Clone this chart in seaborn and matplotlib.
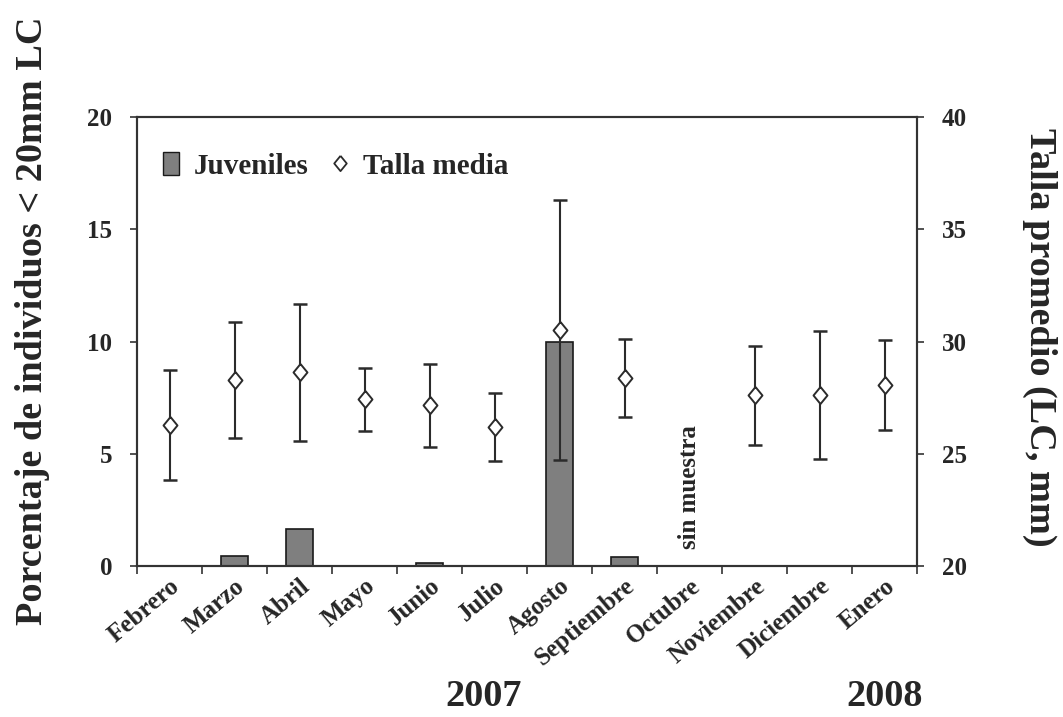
import numpy as np
import pandas as pd
import matplotlib
matplotlib.use("Agg")
import matplotlib.pyplot as plt
from matplotlib.patches import Patch
from matplotlib.lines import Line2D
import seaborn as sns

# Monthly sampling, Feb 2007 - Jan 2008
meses = ["Febrero", "Marzo", "Abril", "Mayo", "Junio", "Julio", "Agosto",
         "Septiembre", "Octubre", "Noviembre", "Diciembre", "Enero"]
# Percentage of juveniles (< 20 mm LC)
juveniles = [0.0, 0.45, 1.65, 0.0, 0.12, 0.0, 10.0, 0.38, 0.0, 0.0, 0.0, 0.0]
# Mean carapace length (mm) and its spread; Octubre was not sampled
talla_media = [26.27, 28.28, 28.62, 27.42, 27.17, 26.18, 30.5, 28.38,
               np.nan, 27.6, 27.6, 28.05]
talla_error = [2.45, 2.57, 3.05, 1.4, 1.85, 1.52, 5.8, 1.75,
               np.nan, 2.2, 2.85, 2.0]

sns.set_theme(style="white")
plt.rcParams["font.family"] = ["Liberation Serif", "DejaVu Serif"]
plt.rcParams["font.weight"] = "bold"

df = pd.DataFrame({"mes": meses, "juv": juveniles,
                   "talla": talla_media, "err": talla_error})
df["pos"] = np.arange(len(meses))

# slightly tall open diamond
rombo = [(0, 1), (0.82, 0), (0, -1), (-0.82, 0), (0, 1)]

fig = plt.figure(figsize=(10.63, 7.17), dpi=100)
ax = fig.add_axes([0.1289, 0.2106, 0.7338, 0.6262])

sns.barplot(data=df, x="mes", y="juv", ax=ax, color="#7f7f7f",
            saturation=1, width=0.42, edgecolor="#1a1a1a", linewidth=1.2)

ax2 = ax.twinx()
ax2.errorbar(df["pos"], df["talla"], yerr=df["err"], fmt="none",
             ecolor="#2b2b2b", elinewidth=1.5, capsize=5, capthick=1.8,
             zorder=2)
sns.scatterplot(data=df, x="pos", y="talla", ax=ax2, marker=rombo, s=150,
                facecolor="white", edgecolor="#2b2b2b", linewidth=1.4,
                zorder=3, legend=False)

ax.set_xlim(-0.5, len(meses) - 0.5)
ax.set_ylim(0, 20)
ax2.set_ylim(20, 40)
ax.set_yticks([0, 5, 10, 15, 20])
ax2.set_yticks([20, 25, 30, 35, 40])

# ticks sit between months; labels sit under each month
ax.set_xticks(np.arange(-0.5, len(meses), 1.0))
ax.set_xticklabels([])
ax.set_xticks(np.arange(len(meses)), minor=True)
ax.set_xticklabels(meses, minor=True, rotation=40, ha="right",
                   rotation_mode="anchor", fontsize=18, fontweight="bold")
ax.tick_params(axis="x", which="major", length=6, width=1.2, color="#333333",
               direction="out", bottom=True)
ax.tick_params(axis="x", which="minor", length=0, pad=6)
ax.tick_params(axis="y", length=5, width=1.2, color="#333333", direction="out",
               left=True, labelsize=18, pad=13)
ax2.tick_params(axis="y", length=5, width=1.2, color="#333333", direction="out",
                right=True, labelsize=18, pad=13)
for lab in ax.get_yticklabels() + ax2.get_yticklabels():
    lab.set_fontweight("bold")

ax.set_xlabel("")
ax.set_ylabel("")
ax2.set_ylabel("")
for a in (ax, ax2):
    for sp in a.spines.values():
        sp.set_visible(True)
        sp.set_color("#333333")
        sp.set_linewidth(1.5)

fig.text(0.031, 0.552, "Porcentaje de individuos < 20mm LC", rotation=90,
         ha="center", va="center", fontsize=27.5, fontweight="bold")
fig.text(0.978, 0.53, "Talla promedio (LC, mm)", rotation=-90,
         ha="center", va="center", fontsize=27.5, fontweight="bold")

ax.text(8, 3.5, "sin muestra", rotation=90, ha="center", va="center",
        fontsize=18, fontweight="bold")

fig.text(0.455, 0.029, "2007", ha="center", va="center",
         fontsize=27.5, fontweight="bold")
fig.text(0.832, 0.029, "2008", ha="center", va="center",
         fontsize=27.5, fontweight="bold")

handles = [Patch(facecolor="#7f7f7f", edgecolor="#1a1a1a", linewidth=1.0),
           Line2D([], [], marker=rombo, linestyle="none", markersize=11,
                  markerfacecolor="white", markeredgecolor="#2b2b2b",
                  markeredgewidth=1.3)]
ax.legend(handles, ["Juveniles", "Talla media"], loc="upper left",
          bbox_to_anchor=(0.0, 0.98), ncol=2, frameon=False,
          prop={"weight": "bold", "size": 21}, handlelength=0.55,
          handleheight=0.8, handletextpad=0.5, columnspacing=0.8)

fig.savefig("out.png", dpi=100)
